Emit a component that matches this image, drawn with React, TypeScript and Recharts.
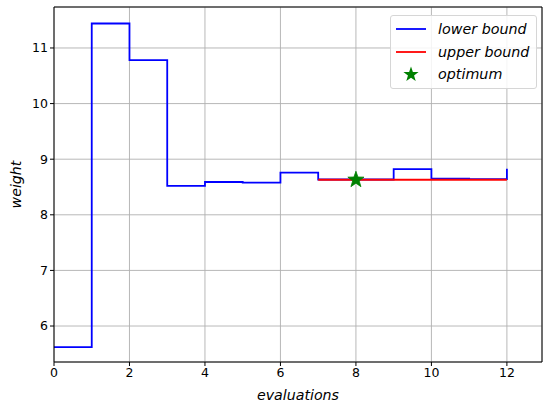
import {
  CartesianGrid,
  ComposedChart,
  Line,
  ReferenceLine,
  Scatter,
  XAxis,
  YAxis,
} from "recharts";

// evaluation index and the bound reached after each step
const evaluations = [0, 1, 2, 3, 4, 5, 6, 7, 8, 9, 10, 11, 12];
const lowerBound = [5.62, 11.44, 10.78, 8.52, 8.59, 8.58, 8.76, 8.635, 8.635, 8.82, 8.65, 8.64, 8.83];
const upperEvaluations = [7, 8, 9, 10, 11, 12];
const upperBound = [8.63, 8.63, 8.63, 8.63, 8.63, 8.63];
const optimumX = [8];
const optimumY = [8.63];

const xTicks = [0, 2, 4, 6, 8, 10, 12];
const yTicks = [6, 7, 8, 9, 10, 11];
const xDomain: [number, number] = [0, 12.93];
const yDomain: [number, number] = [5.353, 11.737];

const lowerData = evaluations.map((x, i) => ({ x, lower: lowerBound[i] }));
const upperData = upperEvaluations.map((x, i) => ({ x, upper: upperBound[i] }));
const optimumData = optimumX.map((x, i) => ({ x, y: optimumY[i] }));

const font = "'DejaVu Sans', sans-serif";

function starPath(cx: number, cy: number, r: number) {
  const pts: string[] = [];
  for (let i = 0; i < 10; i++) {
    const rad = i % 2 === 0 ? r : r * 0.4;
    const a = -Math.PI / 2 + (i * Math.PI) / 5;
    pts.push(`${cx + rad * Math.cos(a)},${cy + rad * Math.sin(a)}`);
  }
  return `M${pts.join("L")}Z`;
}

const Star = (props: any) => {
  const { cx, cy } = props;
  if (cx == null || cy == null) return null;
  return <path d={starPath(cx, cy, 8.5)} fill="#008000" stroke="#008000" strokeWidth={0.8} />;
};

const legendItems = [
  { label: "lower bound", color: "#0000ff" },
  { label: "upper bound", color: "#ff0000" },
];

const LegendBox = () => (
  <div
    style={{
      position: "absolute",
      top: 15,
      left: 390,
      width: 147,
      boxSizing: "border-box",
      border: "1px solid #d6d6d6",
      borderRadius: 3,
      background: "rgba(255,255,255,0.85)",
      padding: "2px 0 2px 5px",
      fontFamily: font,
      fontStyle: "italic",
      fontSize: 14.3,
      lineHeight: "22.5px",
      color: "#000",
      whiteSpace: "nowrap",
    }}
  >
    {legendItems.map((item) => (
      <div key={item.label} style={{ display: "flex", alignItems: "center" }}>
        <svg width={32} height={10} style={{ marginRight: 10, flexShrink: 0 }}>
          <line x1={0} y1={5} x2={30} y2={5} stroke={item.color} strokeWidth={1.8} />
        </svg>
        {item.label}
      </div>
    ))}
    <div style={{ display: "flex", alignItems: "center" }}>
      <svg width={32} height={18} style={{ marginRight: 10, flexShrink: 0 }}>
        <path d={starPath(15, 9.5, 8)} fill="#008000" />
      </svg>
      optimum
    </div>
  </div>
);

export default function App() {
  return (
    <div style={{ position: "fixed", left: 0, top: 0, width: 543, height: 405, background: "#fff" }}>
      <ComposedChart
        width={543}
        height={405}
        margin={{ top: 7, right: 1, bottom: 0, left: 0 }}
      >
        <CartesianGrid stroke="#b0b0b0" strokeWidth={0.9} />
        <XAxis
          type="number"
          dataKey="x"
          domain={xDomain}
          ticks={xTicks}
          allowDataOverflow
          height={43}
          tickSize={4}
          tickMargin={2}
          stroke="#000"
          tick={{ fill: "#000", fontSize: 12.5, fontFamily: font }}
          label={{
            value: "evaluations",
            position: "insideBottom",
            offset: 5,
            style: { fontFamily: font, fontStyle: "italic", fontSize: 14.2, fill: "#000" },
          }}
        />
        <YAxis
          type="number"
          domain={yDomain}
          ticks={yTicks}
          allowDataOverflow
          width={54}
          tickSize={4}
          tickMargin={2}
          stroke="#000"
          tick={{ fill: "#000", fontSize: 12.5, fontFamily: font }}
          label={{
            value: "weight",
            angle: -90,
            position: "insideLeft",
            offset: 16,
            style: { fontFamily: font, fontStyle: "italic", fontSize: 14.2, fill: "#000", textAnchor: "middle" },
          }}
        />
        <ReferenceLine y={yDomain[1]} stroke="#000" strokeWidth={1} />
        <ReferenceLine x={xDomain[1]} stroke="#000" strokeWidth={1} />
        <Line
          data={lowerData}
          dataKey="lower"
          type="stepAfter"
          stroke="#0000ff"
          strokeWidth={1.8}
          dot={false}
          isAnimationActive={false}
        />
        <Line
          data={upperData}
          dataKey="upper"
          type="stepAfter"
          stroke="#ff0000"
          strokeWidth={1.8}
          dot={false}
          isAnimationActive={false}
        />
        <Scatter data={optimumData} dataKey="y" shape={Star} isAnimationActive={false} />
      </ComposedChart>
      <LegendBox />
    </div>
  );
}
